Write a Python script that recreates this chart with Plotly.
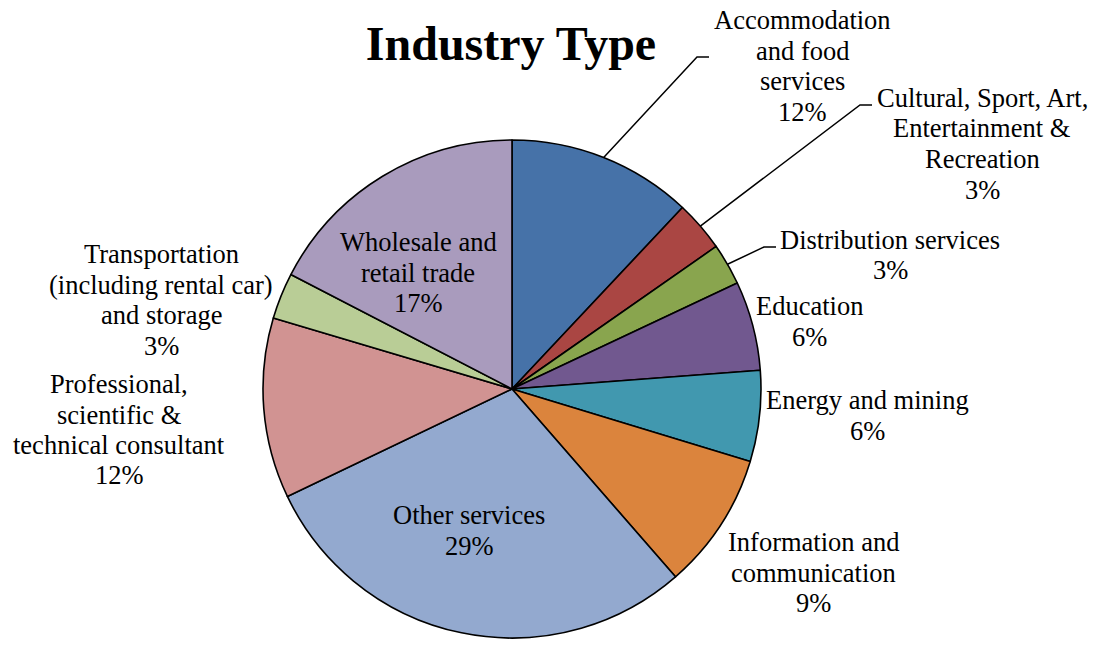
import math
import plotly.graph_objects as go

# data, clockwise from 12 o'clock
categories = [
    "Accommodation and food services",
    "Cultural, Sport, Art, Entertainment & Recreation",
    "Distribution services",
    "Education",
    "Energy and mining",
    "Information and communication",
    "Other services",
    "Professional, scientific & technical consultant",
    "Transportation (including rental car) and storage",
    "Wholesale and retail trade",
]
shares = [12.0, 3.3, 2.7, 5.8, 5.9, 8.9, 29.3, 11.7, 3.0, 17.4]
colors = ["#4672A8", "#AA4643", "#89A54E", "#71588F", "#4198AF",
          "#DB843D", "#93A9CF", "#D19392", "#B9CD96", "#A99BBD"]

# how each label wraps
label_lines = [
    ["Accommodation", "and food", "services"],
    ["Cultural, Sport, Art,", "Entertainment &", "Recreation"],
    ["Distribution services"],
    ["Education"],
    ["Energy and mining"],
    ["Information and", "communication"],
    ["Other services"],
    ["Professional,", "scientific &", "technical consultant"],
    ["Transportation", "(including rental car)", "and storage"],
    ["Wholesale and", "retail trade"],
]

# layout (pixels): first-line centre of each label, elbow of leader line (or None)
label_pos = [(802, 20), (982, 98), (890, 240), (809, 306), (867, 400),
             (813, 542), (469, 515), (119, 384), (161, 254), (418, 242)]
elbows = [(697, 57), (860, 105), (764, 247), None, None,
          None, None, None, None, None]

W, H = 1094, 645
CX, CY, R = 512, 389, 249
LINE = 30.5
FONT = "'Liberation Serif', 'Times New Roman', Times, serif"


def px(x, y):
    return x / W, 1 - y / H


fig = go.Figure(go.Pie(
    labels=categories, values=shares, sort=False, direction="clockwise",
    rotation=0, textinfo="none", hoverinfo="label+percent",
    marker=dict(colors=colors, line=dict(color="black", width=1.6)),
    domain=dict(x=[(CX - R) / W, (CX + R) / W], y=[1 - (CY + R) / H, 1 - (CY - R) / H]),
    showlegend=False,
))

total = sum(shares)
annotations = []
shapes = []
cum = 0
for i, v in enumerate(shares):
    mid = (cum + v / 2) / total * 2 * math.pi
    cum += v
    lines = label_lines[i] + [f"{round(v / total * 100)}%"]
    lx, ly = label_pos[i]
    for k, t in enumerate(lines):
        x, y = px(lx, ly + k * LINE)
        annotations.append(dict(
            x=x, y=y, xref="paper", yref="paper", text=t, showarrow=False,
            xanchor="center", yanchor="middle",
            font=dict(family=FONT, size=26.5, color="black")))
    if elbows[i]:
        ex, ey = elbows[i]
        sx, sy = CX + R * math.sin(mid), CY - R * math.cos(mid)
        pts = [px(sx, sy), px(ex, ey), px(ex + 12, ey)]
        shapes.append(dict(
            type="path", xref="paper", yref="paper",
            path="M {} {} L {} {} L {} {}".format(*[c for p in pts for c in p]),
            line=dict(color="black", width=1.5)))

fig.update_layout(
    width=W, height=H, margin=dict(l=0, r=0, t=0, b=0),
    paper_bgcolor="white", plot_bgcolor="white",
    title=dict(text="<b>Industry Type</b>", x=511 / W, xanchor="center",
               y=1 - 43 / H, yanchor="middle",
               font=dict(family=FONT, size=48, color="black")),
    annotations=annotations, shapes=shapes,
)

# drop the browser's default body margin so the figure sits at the page origin
fig.write_html("out.html", config={"displayModeBar": False},
               post_script="document.body.style.margin = '0';")
